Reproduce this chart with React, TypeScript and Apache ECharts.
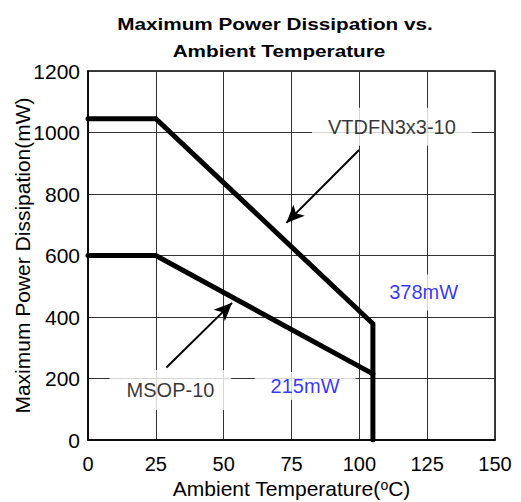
import React, { useEffect, useRef } from "react";
import * as echarts from "echarts";

const xTicks = [0, 25, 50, 75, 100, 125, 150];
const yTicks = [0, 200, 400, 600, 800, 1000, 1200];

const vtdfnX = [0, 25, 105, 105];
const vtdfnY = [1045, 1045, 378, 0];
const msopX = [0, 25, 105];
const msopY = [600, 600, 215];

const noteText = ["VTDFN3x3-10", "MSOP-10", "215mW", "378mW"];
const noteX = [112, 30.4, 80, 123.7];
const noteY = [1019, 163, 176, 480];
const noteColor = ["#000", "#000", "#0000ff", "#0000ff"];

const arrowFromX = [99.9, 28.9];
const arrowFromY = [943, 236];
const arrowToX = [73.1, 53.1];
const arrowToY = [706, 446];

const FONT = '"Liberation Sans", Arial, sans-serif';

export default function App() {
  const ref = useRef<HTMLDivElement>(null);
  useEffect(() => {
    if (!ref.current) return;
    const chart = echarts.init(ref.current, undefined, { renderer: "svg" });
    const pads = [
      [9, 16],
      [10, 17],
      [4, 16],
      [8, 8],
    ];
    chart.setOption({
      animation: false,
      backgroundColor: "#fff",
      textStyle: { fontFamily: FONT },
      grid: {
        left: 88,
        right: 26,
        top: 71,
        bottom: 62,
        containLabel: false,
        outerBoundsMode: "none",
        show: true,
        borderColor: "#000",
        borderWidth: 1.5,
      },
      graphic: [
        {
          type: "text",
          x: 275,
          y: 24,
          scaleX: 1.22,
          style: {
            text: "Maximum Power Dissipation vs.",
            font: `bold 17px ${FONT}`,
            align: "center",
            verticalAlign: "middle",
            fill: "#000",
          },
        },
        {
          type: "text",
          x: 279,
          y: 51,
          scaleX: 1.22,
          style: {
            text: "Ambient Temperature",
            font: `bold 17px ${FONT}`,
            align: "center",
            verticalAlign: "middle",
            fill: "#000",
          },
        },
      ],
      xAxis: {
        type: "value",
        min: xTicks[0],
        max: xTicks[xTicks.length - 1],
        interval: 25,
        name: "Ambient Temperature({sup|o}C)",
        nameLocation: "middle",
        nameGap: 38,
        nameMoveOverlap: false,
        nameTextStyle: {
          fontSize: 21,
          lineHeight: 20,
          color: "#000",
          fontFamily: FONT,
          rich: { sup: { fontSize: 14, lineHeight: 20, verticalAlign: "top", color: "#000", fontFamily: FONT } },
        },
        axisLine: { show: true, lineStyle: { color: "#000", width: 1.5 } },
        axisTick: { show: false },
        axisLabel: { fontSize: 20, lineHeight: 18, color: "#000", margin: 15, fontFamily: FONT, formatter: (v: number) => String(v) },
        splitLine: { show: true, lineStyle: { color: "#333", width: 1 } },
      },
      yAxis: {
        type: "value",
        min: yTicks[0],
        max: yTicks[yTicks.length - 1],
        interval: 200,
        name: "Maximum Power Dissipation(mW)",
        nameLocation: "middle",
        nameGap: 55,
        nameMoveOverlap: false,
        nameTextStyle: { fontSize: 21, color: "#000", fontFamily: FONT },
        axisLine: { show: true, lineStyle: { color: "#000", width: 1.5 } },
        axisTick: { show: false },
        axisLabel: { fontSize: 21, color: "#000", margin: 8, fontFamily: FONT, formatter: (v: number) => String(v) },
        splitLine: { show: true, lineStyle: { color: "#333", width: 1 } },
      },
      series: [
        {
          type: "line",
          name: "VTDFN3x3-10",
          data: vtdfnX.map((x, i) => [x, vtdfnY[i]]),
          showSymbol: false,
          symbol: "none",
          lineStyle: { color: "#000", width: 5, cap: "round", join: "miter" },
          z: 5,
        },
        {
          type: "line",
          name: "MSOP-10",
          data: msopX.map((x, i) => [x, msopY[i]]),
          showSymbol: false,
          symbol: "none",
          lineStyle: { color: "#000", width: 5, cap: "round", join: "miter" },
          z: 5,
        },
        {
          type: "scatter",
          symbolSize: 1,
          itemStyle: { color: "transparent" },
          z: 4,
          data: noteText.map((t, i) => ({
            value: [noteX[i], noteY[i]],
            label: {
              show: true,
              position: "inside",
              formatter: t,
              fontSize: 20,
              fontFamily: FONT,
              color: noteColor[i],
              backgroundColor: "#fff",
              padding: pads[i],
            },
          })),
          markLine: {
            silent: true,
            symbol: ["none", "arrow"],
            symbolSize: [12, 18],
            label: { show: false },
            lineStyle: { color: "#000", width: 2, type: "solid" },
            data: arrowFromX.map((x, i) => [
              { coord: [x, arrowFromY[i]] },
              { coord: [arrowToX[i], arrowToY[i]] },
            ]),
          },
        },
      ],
    });
    return () => chart.dispose();
  }, []);
  return (
    <div
      ref={ref}
      style={{ position: "absolute", left: 0, top: 0, width: 521, height: 502 }}
    />
  );
}
